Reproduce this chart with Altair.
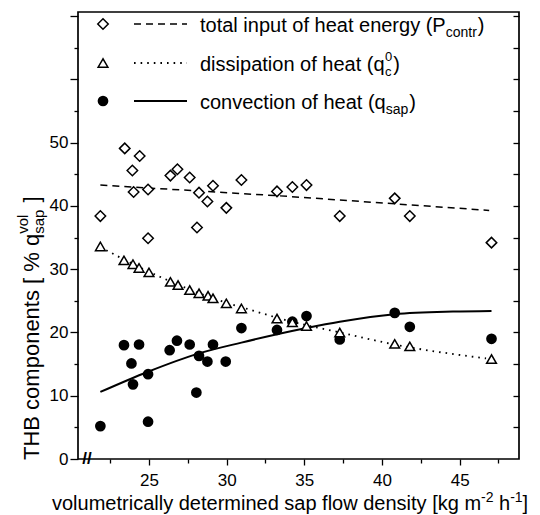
import altair as alt
import pandas as pd

# ---------------- data ----------------
x_total = [21.87, 23.44, 24.40, 23.93, 24.01, 24.94, 24.94, 26.38, 26.83, 27.62, 28.22, 28.76,
           28.09, 29.12, 29.98, 30.95, 33.24, 34.23, 35.14, 37.28, 40.82, 41.79, 47.05]
y_total = [38.4, 49.1, 47.9, 45.6, 42.2, 42.6, 34.9, 44.8, 45.8, 44.5, 42.1, 40.7,
           36.6, 43.2, 39.7, 44.1, 42.3, 43.0, 43.3, 38.4, 41.2, 38.4, 34.2]

x_diss = [21.87, 23.39, 23.97, 24.36, 25.00, 26.38, 26.87, 27.62, 28.22, 28.80, 29.12, 29.98,
          30.95, 33.24, 34.23, 35.14, 37.28, 40.82, 41.79, 47.05]
y_diss = [33.6, 31.4, 30.8, 30.2, 29.5, 28.0, 27.5, 26.7, 26.2, 25.8, 25.4, 24.6,
          23.8, 22.2, 21.6, 21.0, 20.0, 18.2, 17.8, 15.8]

x_conv = [21.87, 23.39, 24.36, 23.87, 23.97, 24.94, 24.94, 26.33, 26.80, 27.62, 28.22, 28.76,
          28.05, 29.12, 29.94, 30.95, 33.24, 34.23, 35.14, 37.28, 40.82, 41.79, 47.05]
y_conv = [5.2, 18.0, 18.1, 15.1, 11.8, 13.4, 5.9, 17.2, 18.7, 18.1, 16.3, 15.4,
          10.5, 18.1, 15.4, 20.7, 20.4, 21.7, 22.6, 18.9, 23.1, 20.9, 19.0]

fit_total_x = [21.87, 33.4, 46.9]
fit_total_y = [43.3, 41.6, 39.3]
fit_diss_x = [21.87, 24.4, 26.83, 29.12, 31.5, 34.2, 37.3, 40.8, 46.7]
fit_diss_y = [33.5, 30.3, 27.6, 25.4, 23.6, 21.7, 20.0, 18.1, 15.9]
fit_conv_x = [21.87, 24.94, 28.22, 30.95, 35.14, 37.28, 40.82, 44.57, 47.05]
fit_conv_y = [10.6, 13.8, 16.7, 18.4, 20.7, 21.7, 22.9, 23.3, 23.4]

x_ticks = [22.5, 25, 27.5, 30, 32.5, 35, 37.5, 40, 42.5, 45, 47.5]
y_ticks = [0, 5, 10, 15, 20, 25, 30, 35, 40, 45, 50, 55, 60, 65, 70]

legend_main = ["total input of heat energy (P", "dissipation of heat (q", "convection of heat (q"]
# (text, font size, baseline shift, extra space before)
x_title_parts = [("volumetrically determined sap flow density [kg m", 20, 0, 0),
                 ("-2", 14, -8, 0), ("h", 20, 0, 1), ("-1", 14, -8, 0), ("]", 20, 0, 0)]
y_title_main = "THB components [ % q"

# ---------------- layout ----------------
W, H = 441, 447
XDOM = [20.43, 48.82]
YDOM = [0, 70.66]
FONT = "Liberation Sans"

AW = {' ': 278, '(': 333, ')': 333, '[': 278, ']': 278, '%': 889, '-': 333, '/': 278,
      'T': 611, 'H': 722, 'B': 667, 'P': 667,
      'a': 556, 'b': 556, 'c': 500, 'd': 556, 'e': 556, 'f': 278, 'g': 556, 'h': 556,
      'i': 222, 'j': 222, 'k': 500, 'l': 222, 'm': 833, 'n': 556, 'o': 556, 'p': 556,
      'q': 556, 'r': 333, 's': 500, 't': 278, 'u': 556, 'v': 500, 'w': 722, 'x': 500,
      'y': 500, 'z': 500}


def tw(s, fs):
    return sum(AW.get(c, 556) for c in s) * fs / 1000.0


xs = alt.Scale(domain=XDOM, nice=False, zero=False)
ys = alt.Scale(domain=YDOM, nice=False, zero=False)

x_axis = alt.Axis(values=x_ticks, title=None, grid=False, domain=False,
                  labelExpr="datum.value % 5 == 0 ? toString(datum.value) : ''",
                  tickSize={"condition": {"test": "datum.value % 5 == 0", "value": 6}, "value": 4},
                  tickColor="black", tickWidth=1.3, labelFont=FONT, labelFontSize=17,
                  labelColor="black", labelPadding=7)
y_axis = alt.Axis(values=y_ticks, title=None, grid=False, domain=False,
                  labelExpr="(datum.value % 10 == 0 && datum.value <= 50) ? toString(datum.value) : ''",
                  tickSize={"condition": {"test": "datum.value % 10 == 0", "value": 8}, "value": 4},
                  tickColor="black", tickWidth=1.3, labelFont=FONT, labelFontSize=17,
                  labelColor="black", labelPadding=2)

df_total = pd.DataFrame({"x": x_total, "y": y_total})
df_diss = pd.DataFrame({"x": x_diss, "y": y_diss})
df_conv = pd.DataFrame({"x": x_conv, "y": y_conv})
df_ft = pd.DataFrame({"x": fit_total_x, "y": fit_total_y})
df_fd = pd.DataFrame({"x": fit_diss_x, "y": fit_diss_y})
df_fc = pd.DataFrame({"x": fit_conv_x, "y": fit_conv_y})
one = pd.DataFrame({"k": [0]})


def enc(ch):
    return ch.encode(x=alt.X("x:Q", scale=xs, axis=x_axis), y=alt.Y("y:Q", scale=ys, axis=y_axis))


line_total = enc(alt.Chart(df_ft).mark_line(color="black", strokeWidth=1.5, strokeDash=[7, 5]))
line_diss = enc(alt.Chart(df_fd).mark_line(color="black", strokeWidth=1.8, strokeDash=[1.6, 5],
                                           interpolate="monotone"))
line_conv = enc(alt.Chart(df_fc).mark_line(color="black", strokeWidth=2, interpolate="monotone"))

pts_conv = enc(alt.Chart(df_conv).mark_point(shape="circle", size=115, filled=True,
                                              color="black", opacity=1))
pts_diss = enc(alt.Chart(df_diss).mark_point(shape="triangle-up", size=95, filled=True,
                                              fill="white", stroke="black", strokeWidth=1.5,
                                              opacity=1))
pts_total = enc(alt.Chart(df_total).mark_point(shape="diamond", size=110, filled=True,
                                                fill="white", stroke="black", strokeWidth=1.5,
                                                opacity=1))


def txt(s, x, y, fs, angle=0):
    return alt.Chart(one).mark_text(text=s, fontSize=fs, font=FONT, angle=angle, align="left",
                                    baseline="alphabetic", color="black").encode(
        x=alt.value(x), y=alt.value(y))


annot = []
# legend
row_y = [12, 51, 89]
sym_x = 25
tx0 = 122
FS = 20
SFS = 14
sym_styles = [
    dict(shape="diamond", size=110, filled=True, fill="white", stroke="black", strokeWidth=1.5),
    dict(shape="triangle-up", size=95, filled=True, fill="white", stroke="black", strokeWidth=1.5),
    dict(shape="circle", size=115, filled=True, color="black"),
]
line_styles = [dict(strokeDash=[7, 5], strokeWidth=1.5), dict(strokeDash=[1.6, 5], strokeWidth=1.8),
               dict(strokeWidth=2)]
for i in range(3):
    annot.append(alt.Chart(one).mark_point(opacity=1, **sym_styles[i]).encode(
        x=alt.value(sym_x), y=alt.value(row_y[i])))
    annot.append(alt.Chart(one).mark_rule(color="black", **line_styles[i]).encode(
        x=alt.value(56), x2=alt.value(109), y=alt.value(row_y[i])))
    bl = row_y[i] + 7.5
    annot.append(txt(legend_main[i], tx0, bl, FS))
    xe = tx0 + tw(legend_main[i], FS)
    if i == 0:
        annot.append(txt("contr", xe, bl + 5, SFS))
        annot.append(txt(")", xe + tw("contr", SFS) + 1, bl, FS))
    elif i == 1:
        annot.append(txt("0", xe + 0.5, bl - 10, 13))
        annot.append(txt("c", xe + 0.5, bl + 5, 13))
        annot.append(txt(")", xe + tw("0", 13) + 1.5, bl, FS))
    else:
        annot.append(txt("sap", xe, bl + 5, SFS))
        annot.append(txt(")", xe + tw("sap", SFS) + 1, bl, FS))

# x title
xt = -26
xb = 498
for s, f, o, sp in x_title_parts:
    xt += tw(" ", 20) * sp
    annot.append(txt(s, xt, xb + o, f))
    xt += tw(s, f)

# y title (rotated)
YF = 22
ybx = -39
yy = 448
annot.append(txt(y_title_main, ybx, yy, YF, angle=270))
yy -= tw(y_title_main, YF)
annot.append(txt("sap", ybx + 5, yy, 15, angle=270))
annot.append(txt("vol", ybx - 11, yy, 15, angle=270))
yy -= max(tw("sap", 15), tw("vol", 15)) + 1 + tw(" ", YF)
annot.append(txt("]", ybx, yy, YF, angle=270))

# axis break mark
annot.append(alt.Chart(one).mark_text(text="//", fontSize=17, font=FONT, fontWeight="bold",
                                      align="center", baseline="middle", color="black").encode(
    x=alt.value(9), y=alt.value(H)))

main = alt.layer(line_total, line_diss, line_conv, pts_conv, pts_diss, pts_total, *annot)

right = alt.Chart(df_diss).mark_point(opacity=0).encode(
    x=alt.X("x:Q", scale=xs, axis=x_axis),
    y=alt.Y("y:Q", scale=ys, axis=alt.Axis(orient="right", offset=-6, tickSize=6, labels=False,
                                           domain=False, values=y_ticks[1:], title=None,
                                           grid=False, tickColor="black", tickWidth=1.3)))

chart = alt.layer(main, right).resolve_axis(y="independent").properties(
    width=W, height=H,
    autosize=alt.AutoSizeParams(type="none"),
    padding={"left": 78, "top": 12, "right": 21, "bottom": 56},
).configure_view(stroke="black", strokeWidth=1.7)

chart.save("out.html", embed_options={"renderer": "svg", "actions": False})
